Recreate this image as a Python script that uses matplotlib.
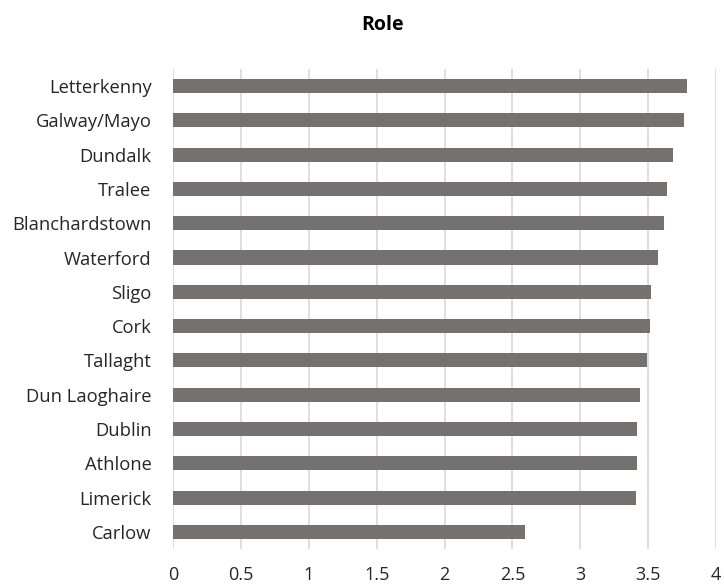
import matplotlib.pyplot as plt

plt.rcParams['font.family'] = ['Open Sans', 'DejaVu Sans']

campuses = ["Letterkenny", "Galway/Mayo", "Dundalk", "Tralee", "Blanchardstown",
            "Waterford", "Sligo", "Cork", "Tallaght", "Dun Laoghaire", "Dublin",
            "Athlone", "Limerick", "Carlow"]
scores = [3.785, 3.765, 3.68, 3.64, 3.62, 3.576, 3.52, 3.51, 3.49, 3.44,
          3.42, 3.42, 3.41, 2.59]
xticks = [0, 0.5, 1, 1.5, 2, 2.5, 3, 3.5, 4]
xtick_labels = ["0", "0.5", "1", "1.5", "2", "2.5", "3", "3.5", "4"]

fig = plt.figure(figsize=(7.24, 5.88), dpi=100)
ax = fig.add_axes([0.239, 0.066, 0.75, 0.817])

ax.barh(range(len(campuses)), scores, height=0.41, color="#767171", zorder=3)
ax.set_ylim(len(campuses) - 0.5, -0.5)
ax.set_xlim(0, 4)

ax.set_yticks(range(len(campuses)))
ax.set_yticklabels(campuses, fontsize=13.2, color="#262626")
ax.set_xticks(xticks)
ax.set_xticklabels(xtick_labels, fontsize=13, color="#262626")
ax.tick_params(axis="both", length=0)
ax.tick_params(axis="y", pad=15.5)
ax.tick_params(axis="x", pad=12)

ax.grid(axis="x", color="#d9d9d9", linewidth=1.2, zorder=0)
for s in ax.spines.values():
    s.set_visible(False)

fig.suptitle("Role", fontsize=14, fontweight="bold", y=0.975, x=0.528)

fig.savefig("out.png", dpi=100)
